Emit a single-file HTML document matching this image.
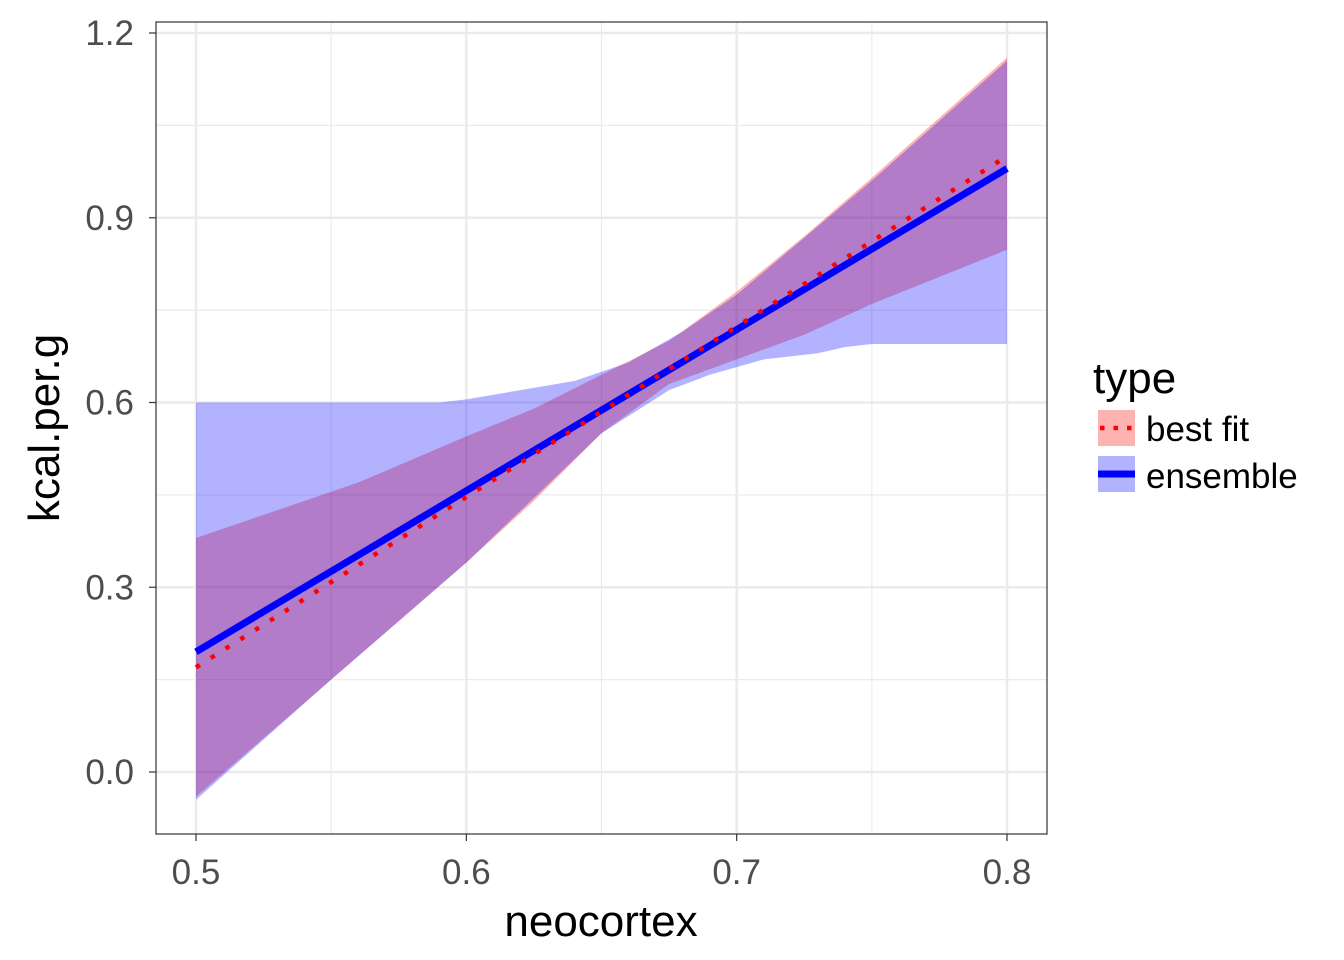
<!DOCTYPE html>
<html><head><meta charset="utf-8"><style>
body{margin:0;background:#fff;}
svg{display:block;font-family:"Liberation Sans",Arial,sans-serif;}
</style></head><body>
<svg id="chart" width="1344" height="960"></svg>
<script>
const xTicks=[0.5,0.6,0.7,0.8];
const xTickLabels=["0.5","0.6","0.7","0.8"];
const yTicks=[0.0,0.3,0.6,0.9,1.2];
const yTickLabels=["0.0","0.3","0.6","0.9","1.2"];
const xMinor=[0.55,0.65,0.75];
const yMinor=[0.15,0.45,0.75,1.05];
const bestX=[0.5,0.8];
const bestY=[0.17,1.0];
const ensX=[0.5,0.8];
const ensY=[0.195,0.98];
const redUpX=[0.5,0.52,0.56,0.6,0.625,0.65,0.675,0.7,0.725,0.75,0.8];
const redUpY=[0.38,0.41,0.47,0.545,0.59,0.645,0.70,0.78,0.87,0.965,1.16];
const redLoX=[0.5,0.55,0.6,0.625,0.65,0.675,0.7,0.725,0.75,0.8];
const redLoY=[-0.04,0.15,0.34,0.44,0.55,0.63,0.67,0.71,0.76,0.848];
const bluUpX=[0.5,0.53,0.59,0.6,0.62,0.64,0.66,0.68,0.7,0.75,0.8];
const bluUpY=[0.60,0.60,0.60,0.605,0.62,0.635,0.665,0.715,0.775,0.96,1.155];
const bluLoX=[0.5,0.55,0.6,0.65,0.675,0.69,0.71,0.73,0.74,0.75,0.8];
const bluLoY=[-0.045,0.15,0.34,0.55,0.62,0.645,0.67,0.68,0.69,0.695,0.695];

const svg=document.getElementById('chart');
const NS='http://www.w3.org/2000/svg';
const px0=156,px1=1047,py0=22,py1=834;
const sx=v=>196+(v-0.5)/0.3*(1007-196);
const sy=v=>772-v/1.2*(772-33);
function mk(t,a){const e=document.createElementNS(NS,t);for(const k in a)e.setAttribute(k,a[k]);svg.appendChild(e);return e;}
let e;
e=mk('rect',{x:px0,y:py0,width:px1-px0,height:py1-py0,fill:'#fff'});


xMinor.forEach(v=>{e=mk('line',{x1:sx(v),x2:sx(v),y1:py0,y2:py1,stroke:'#ebebeb','stroke-width':1.2});

});
yMinor.forEach(v=>{e=mk('line',{y1:sy(v),y2:sy(v),x1:px0,x2:px1,stroke:'#ebebeb','stroke-width':1.2});

});
xTicks.forEach(v=>{e=mk('line',{x1:sx(v),x2:sx(v),y1:py0,y2:py1,stroke:'#ebebeb','stroke-width':2.5});

});
yTicks.forEach(v=>{e=mk('line',{y1:sy(v),y2:sy(v),x1:px0,x2:px1,stroke:'#ebebeb','stroke-width':2.5});

});
function band(ux,uy,lx,ly){let p=ux.map((x,i)=>sx(x)+','+sy(uy[i]));for(let i=lx.length-1;i>=0;i--)p.push(sx(lx[i])+','+sy(ly[i]));return p.join(' ');}
e=mk('polygon',{points:band(redUpX,redUpY,redLoX,redLoY),fill:'#ff0000','fill-opacity':0.3});


e=mk('polygon',{points:band(bluUpX,bluUpY,bluLoX,bluLoY),fill:'#0000ff','fill-opacity':0.3});


e=mk('polyline',{points:ensX.map((x,i)=>sx(x)+','+sy(ensY[i])).join(' '),fill:'none',stroke:'#0000ff','stroke-width':7});


e=mk('polyline',{points:bestX.map((x,i)=>sx(x)+','+sy(bestY[i])).join(' '),fill:'none',stroke:'#ff0000','stroke-width':4.5,'stroke-dasharray':'4.5 13'});


e=mk('rect',{x:px0,y:py0,width:px1-px0,height:py1-py0,fill:'none',stroke:'#333','stroke-width':1.2});


xTicks.forEach((v,i)=>{
e=mk('line',{x1:sx(v),x2:sx(v),y1:py1,y2:py1+7,stroke:'#333','stroke-width':1.2});


e=mk('text',{x:sx(v),y:884,'text-anchor':'middle','font-size':35,fill:'#4d4d4d'});e.textContent=xTickLabels[i];

});
yTicks.forEach((v,i)=>{
e=mk('line',{x1:px0-7,x2:px0,y1:sy(v),y2:sy(v),stroke:'#333','stroke-width':1.2});


e=mk('text',{x:134,y:sy(v)+12,'text-anchor':'end','font-size':35,fill:'#4d4d4d'});e.textContent=yTickLabels[i];

});
e=mk('text',{x:601,y:936,'text-anchor':'middle','font-size':44,fill:'#000'});e.textContent='neocortex';


e=mk('text',{x:0,y:0,'text-anchor':'middle','font-size':44,fill:'#000',transform:'translate(59,428) rotate(-90)'});e.textContent='kcal.per.g';


e=mk('text',{x:1093,y:393,'font-size':44,fill:'#000'});e.textContent='type';


e=mk('rect',{x:1098,y:410,width:37,height:36,fill:'#ff0000','fill-opacity':0.3});


e=mk('line',{x1:1100,x2:1134,y1:428,y2:428,stroke:'#ff0000','stroke-width':4.5,'stroke-dasharray':'4.5 9'});


e=mk('text',{x:1146,y:441,'font-size':35,fill:'#000'});e.textContent='best fit';


e=mk('rect',{x:1098,y:456,width:37,height:36,fill:'#0000ff','fill-opacity':0.3});


e=mk('line',{x1:1098,x2:1135,y1:474,y2:474,stroke:'#0000ff','stroke-width':7});


e=mk('text',{x:1146,y:488,'font-size':35,fill:'#000'});e.textContent='ensemble';


</script>
</body></html>
